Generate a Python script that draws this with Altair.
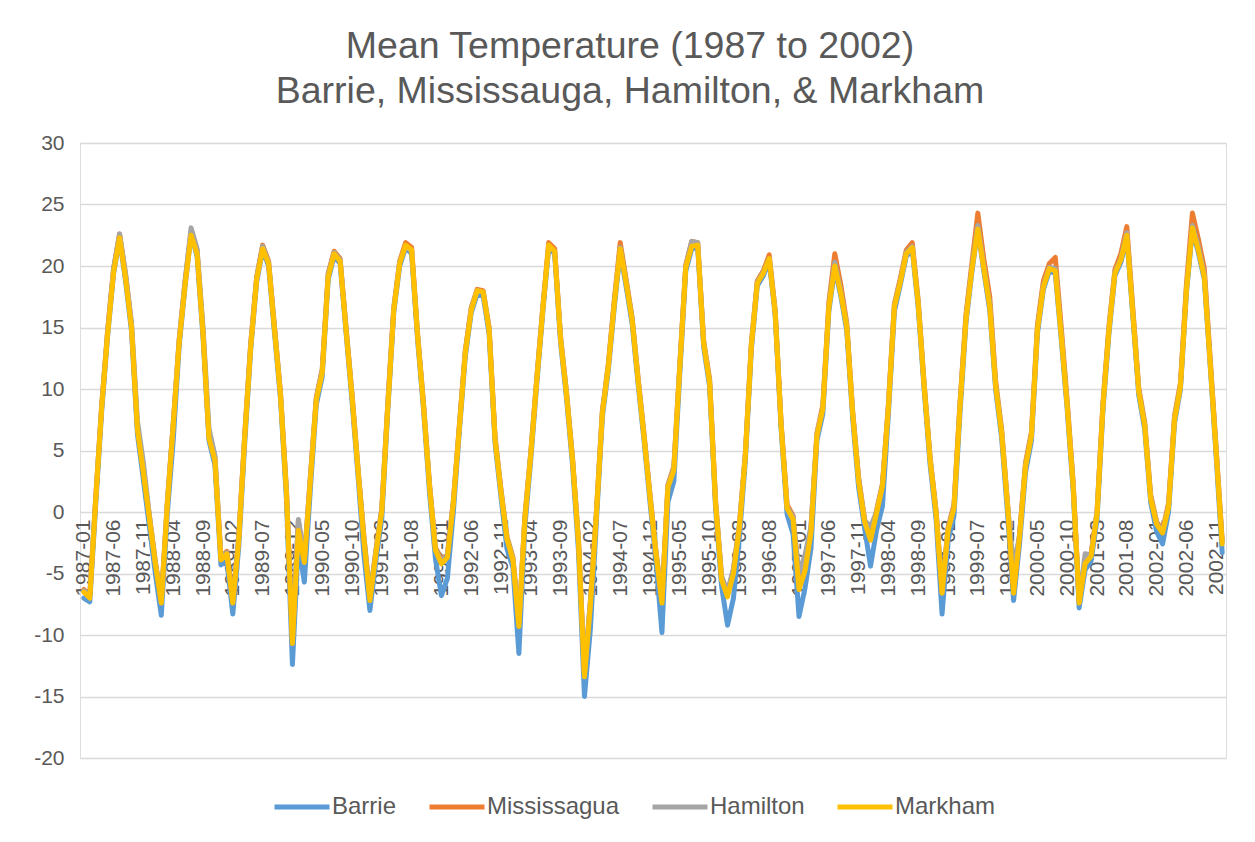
import altair as alt
import pandas as pd

cities = ["Barrie", "Mississagua", "Hamilton", "Markham"]
colors = ["#5B9BD5", "#ED7D31", "#A5A5A5", "#FFC000"]

months = [f"{y}-{m:02d}" for y in range(1987, 2003) for m in range(1, 13)]

barrie = [
    -7.0, -7.3, 0.6, 8.2, 14.3, 19.4, 22.2, 18.8, 14.7, 6.3, 2.6, -1.2,
    -5.0, -8.4, -0.2, 5.8, 13.5, 18.4, 22.6, 20.8, 14.2, 5.8, 3.8, -4.3,
    -4.0, -8.3, -2.8, 5.6, 13.2, 18.7, 21.3, 20.0, 14.5, 9.2, 1.0, -12.4,
    -2.5, -5.7, 1.8, 8.7, 11.0, 18.9, 20.8, 20.2, 14.6, 9.0, 3.0, -3.5,
    -8.0, -4.0, -0.5, 8.2, 16.2, 20.0, 21.5, 21.0, 14.0, 8.3, 1.6, -3.8,
    -6.8, -5.4, 0.0, 6.5, 12.6, 16.2, 17.7, 17.6, 14.5, 5.6, 1.2, -3.0,
    -4.5, -11.5, -1.2, 4.3, 10.4, 16.2, 21.5, 21.0, 13.7, 9.2, 3.8, -3.2,
    -15.0, -9.5, -0.8, 7.7, 11.5, 16.6, 21.2, 18.3, 15.3, 10.4, 5.8, 0.8,
    -4.0, -9.8, 0.8, 2.5, 11.3, 19.6, 21.4, 21.5, 13.4, 10.2, 0.3, -6.0,
    -9.2, -7.0, -2.0, 4.2, 13.2, 18.4, 19.2, 20.4, 16.0, 6.7, -0.2, -1.8,
    -8.5, -6.2, -3.0, 5.8, 8.0, 16.3, 19.8, 17.6, 14.8, 7.6, 2.0, -1.3,
    -4.4, -1.5, 0.5, 8.0, 16.3, 18.5, 20.8, 21.3, 16.6, 9.9, 3.8, -0.6,
    -8.3, -2.3, -0.3, 8.0, 15.3, 19.5, 23.0, 19.6, 16.4, 9.9, 6.0, -0.2,
    -7.2, -2.6, 3.2, 5.8, 14.5, 18.1, 19.6, 19.4, 14.0, 8.3, 1.7, -7.8,
    -4.7, -4.0, -0.6, 8.3, 14.5, 19.2, 20.3, 22.3, 16.0, 9.5, 6.7, 0.8,
    -1.6, -2.6, 0.0, 7.2, 10.0, 17.8, 22.9, 21.1, 18.9, 11.8, 4.4, -3.3,
]

mississauga = [
    -6.3, -6.8, 1.2, 8.7, 14.8, 19.8, 22.6, 19.3, 15.2, 6.9, 3.3, -0.3,
    -4.0, -7.2, 0.7, 7.2, 14.0, 18.8, 22.8, 21.3, 14.7, 6.2, 4.4, -3.7,
    -3.2, -7.2, -2.0, 6.3, 13.7, 19.1, 21.7, 20.4, 15.0, 9.7, 1.8, -10.4,
    -0.7, -3.9, 2.8, 9.3, 11.6, 19.4, 21.2, 20.6, 15.0, 9.6, 3.6, -2.0,
    -6.9, -3.2, 0.3, 8.8, 16.6, 20.4, 21.9, 21.5, 14.5, 8.8, 2.3, -2.9,
    -3.8, -3.5, 0.9, 7.0, 13.1, 16.6, 18.1, 18.0, 15.0, 6.1, 1.8, -2.0,
    -3.7, -9.0, -0.4, 4.9, 10.9, 16.6, 21.9, 21.4, 14.2, 9.7, 4.4, -2.3,
    -13.1, -7.2, 0.0, 8.2, 12.0, 17.2, 21.9, 18.9, 15.8, 10.9, 6.3, 1.4,
    -3.2, -7.1, 2.2, 3.7, 12.0, 20.1, 22.0, 21.9, 13.9, 10.8, 0.9, -5.3,
    -6.6, -4.7, -1.0, 4.8, 13.7, 18.8, 19.6, 20.9, 16.4, 7.2, 0.6, -0.3,
    -6.0, -4.5, -1.4, 6.4, 8.7, 17.0, 21.0, 18.5, 15.4, 8.2, 2.8, -0.6,
    -2.1, 0.1, 2.3, 8.8, 16.9, 19.0, 21.3, 21.9, 17.2, 10.4, 4.4, 0.1,
    -6.4, -1.3, 0.6, 8.8, 16.0, 20.2, 24.3, 20.6, 17.5, 10.6, 6.7, 0.6,
    -6.4, -1.8, 4.0, 6.5, 15.2, 18.8, 20.2, 20.7, 15.0, 9.0, 2.4, -7.2,
    -4.0, -3.4, 0.0, 8.9, 15.1, 19.7, 21.0, 23.2, 16.6, 10.1, 7.3, 1.4,
    -0.8, -1.5, 0.7, 7.8, 10.5, 18.5, 24.3, 22.2, 19.8, 12.4, 5.1, -2.3,
]

hamilton = [
    -6.4, -6.8, 1.1, 8.6, 14.7, 19.8, 22.6, 19.4, 15.4, 7.4, 4.0, -0.3,
    -4.1, -7.2, 0.6, 7.1, 14.0, 18.8, 23.1, 21.4, 15.0, 6.8, 4.6, -3.6,
    -3.3, -7.3, -2.1, 6.2, 13.6, 19.0, 21.6, 20.3, 15.0, 9.6, 1.7, -10.5,
    -0.6, -3.9, 2.7, 9.2, 11.5, 19.3, 21.1, 20.5, 14.9, 9.5, 3.5, -2.1,
    -6.9, -3.2, 0.3, 8.7, 16.5, 20.3, 21.6, 21.2, 14.4, 8.7, 2.2, -3.0,
    -4.0, -3.5, 0.8, 6.9, 13.0, 16.5, 18.0, 17.9, 14.9, 6.0, 1.7, -2.1,
    -3.8, -9.1, -0.5, 4.8, 10.8, 16.5, 21.6, 21.2, 14.1, 9.6, 4.3, -2.4,
    -13.2, -7.3, -0.1, 8.1, 11.9, 17.0, 21.5, 18.7, 15.7, 10.8, 6.2, 1.3,
    -3.3, -7.2, 2.1, 3.6, 11.9, 20.0, 22.0, 21.9, 13.8, 10.6, 0.8, -5.2,
    -6.5, -4.6, -1.1, 4.7, 13.6, 18.7, 19.5, 20.6, 16.3, 7.1, 0.4, -0.4,
    -5.0, -3.5, -1.2, 6.3, 8.5, 16.7, 20.3, 18.0, 15.2, 8.1, 2.7, -0.7,
    -1.2, 0.0, 2.2, 8.6, 16.8, 18.8, 21.1, 21.6, 17.0, 10.3, 4.3, 0.0,
    -6.5, -1.4, 0.4, 8.6, 15.7, 19.9, 23.3, 20.0, 16.9, 10.3, 6.5, 0.5,
    -4.5, -1.9, 3.8, 6.3, 14.9, 18.4, 19.9, 19.8, 14.5, 8.7, 2.2, -7.3,
    -3.4, -3.5, 0.0, 8.7, 14.9, 19.5, 20.6, 22.7, 16.3, 9.9, 7.1, 1.2,
    -0.9, -1.6, 0.5, 7.6, 10.3, 18.1, 23.3, 21.6, 19.3, 12.1, 4.9, -2.5,
]

markham = [
    -6.5, -7.0, 1.0, 8.5, 14.5, 19.5, 22.3, 19.0, 15.0, 6.7, 3.2, -0.5,
    -4.2, -7.4, 0.5, 7.0, 13.8, 18.5, 22.5, 21.0, 14.5, 6.0, 4.2, -3.9,
    -3.4, -7.4, -2.3, 6.1, 13.4, 18.9, 21.4, 20.2, 14.8, 9.5, 1.5, -10.7,
    -1.5, -4.1, 2.5, 9.1, 11.3, 19.1, 21.0, 20.4, 14.8, 9.4, 3.4, -2.3,
    -7.2, -3.4, 0.1, 8.5, 16.4, 20.2, 21.7, 21.3, 14.3, 8.6, 2.1, -3.1,
    -4.2, -3.7, 0.7, 6.8, 12.9, 16.4, 18.0, 17.9, 14.8, 5.9, 1.6, -2.2,
    -3.9, -9.3, -0.6, 4.7, 10.7, 16.4, 21.7, 21.2, 14.0, 9.5, 4.2, -2.5,
    -13.4, -7.5, -0.2, 8.0, 11.8, 16.9, 21.4, 18.6, 15.6, 10.7, 6.1, 1.2,
    -3.4, -7.4, 2.0, 3.4, 11.8, 19.9, 21.6, 21.7, 13.7, 10.5, 0.7, -5.5,
    -6.9, -5.0, -1.2, 4.6, 13.5, 18.6, 19.4, 20.6, 16.2, 7.0, 0.3, -0.6,
    -6.3, -4.8, -1.7, 6.2, 8.4, 16.6, 20.0, 17.8, 15.1, 8.0, 2.5, -0.8,
    -2.3, -0.1, 2.1, 8.5, 16.7, 18.7, 21.0, 21.5, 16.9, 10.2, 4.2, -0.1,
    -6.6, -1.5, 0.3, 8.5, 15.6, 19.7, 23.0, 19.8, 16.7, 10.2, 6.4, 0.4,
    -6.6, -2.0, 3.7, 6.2, 14.8, 18.3, 19.8, 19.6, 14.3, 8.6, 2.1, -7.4,
    -4.2, -3.6, -0.2, 8.6, 14.8, 19.4, 20.5, 22.5, 16.2, 9.8, 7.0, 1.1,
    -1.0, -1.7, 0.4, 7.5, 10.2, 18.0, 23.1, 21.3, 19.1, 12.0, 4.8, -2.6,
]

series = {"Barrie": barrie, "Mississagua": mississauga, "Hamilton": hamilton, "Markham": markham}
rows = []
for c in cities:
    for m, v in zip(months, series[c]):
        rows.append({"city": c, "month": m, "temp": v})
df = pd.DataFrame(rows)

FONT = "Liberation Sans"
TXT = "#595959"

x_enc = alt.X(
    "month:O",
    sort=months,
    scale=alt.Scale(type="point", padding=0.64),
    axis=alt.Axis(
        values=months[::5], labelAngle=270, labelAlign="right", labelBaseline="middle",
        labelFontSize=21, labelColor=TXT, labelFont=FONT, labelPadding=7,
        domain=False, ticks=False, grid=False, offset=-246, title=None,
        labelOverlap=False,
    ),
)
y_enc = alt.Y(
    "temp:Q",
    scale=alt.Scale(domain=[-20, 30], nice=False, zero=False),
    axis=alt.Axis(
        values=list(range(-20, 35, 5)), labelExpr="'' + datum.value",
        labelFontSize=21, labelColor=TXT, labelFont=FONT,
        labelPadding=16, domain=False, ticks=False, gridColor="#D9D9D9", gridWidth=1.5,
        title=None,
    ),
)
color_enc = alt.Color(
    "city:N",
    scale=alt.Scale(domain=cities, range=colors),
    legend=alt.Legend(
        orient="none", legendX=192, legendY=634, direction="horizontal", title=None,
        symbolType="stroke", symbolSize=3025, symbolStrokeWidth=5,
        labelFontSize=24, labelColor=TXT, labelFont=FONT, columnPadding=22, labelOffset=0,
    ),
)

base = alt.Chart(df).mark_line(strokeWidth=5, strokeJoin="round", strokeCap="round").encode(
    x=x_enc, y=y_enc, color=color_enc
)
layers = [base.transform_filter(alt.datum.city == c) for c in cities]

chart = alt.layer(*layers).properties(
    width=1146,
    height=615,
    autosize=alt.AutoSizeParams(type="none"),
    padding={"left": 72, "top": 135, "right": 20, "bottom": 80},
    title=alt.TitleParams(
        text=["Mean Temperature (1987 to 2002)", "Barrie, Mississauga, Hamilton, & Markham"],
        fontSize=37.5, color=TXT, font=FONT, fontWeight="normal", anchor="middle",
        offset=22, dx=-23, lineHeight=45,
    ),
).configure_view(stroke=None).configure(background="white")

chart.save("out.html", embed_options={"renderer": "svg", "actions": False})
